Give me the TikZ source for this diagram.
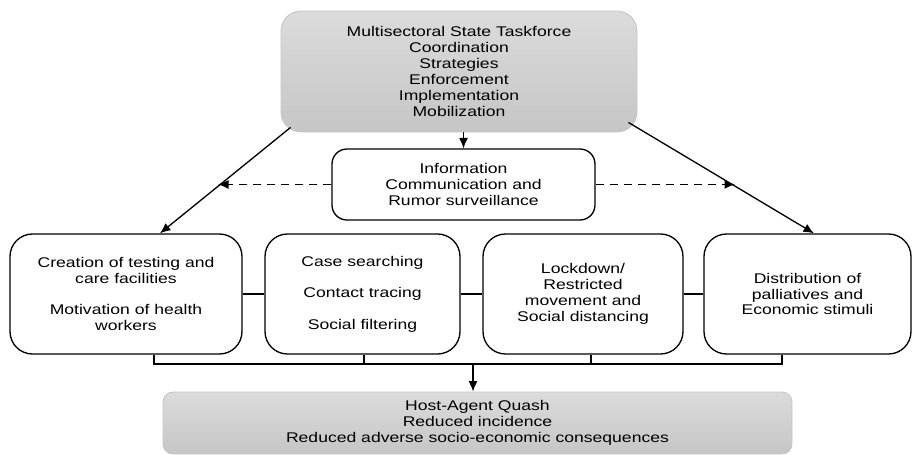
\documentclass[tikz,border=0pt]{standalone}
\usepackage{fontspec}
\setmainfont{Liberation Sans}[FakeStretch=1.25]
\usepackage{tikz}
\usetikzlibrary{arrows.meta}
\usetikzlibrary{positioning}

\begin{document}
\begin{tikzpicture}[
    box/.style={rectangle, rounded corners=0.45cm, draw, line width=0.75pt, align=center, font=\fontsize{8}{9}\selectfont},
    greybox/.style={rectangle, draw=gray!45, line width=0.5pt, top color=gray!28, bottom color=gray!45, align=center, font=\fontsize{8}{9}\selectfont},
    edge/.style={-{Latex[length=2.1mm,width=1.8mm]}, line width=0.75pt},
    dashedge/.style={edge, dash pattern=on 1.7mm off 1.1mm},
    link/.style={line width=0.75pt}
]

\useasboundingbox (0,0) rectangle (18.26,9.08);

% Taskforce (arriba)
\node[greybox, rounded corners=0.4cm, minimum width=7.12cm, minimum height=2.42cm] (task) at (9.18,7.65)
    {Multisectoral State Taskforce\\ Coordination\\ Strategies\\ Enforcement\\ Implementation\\ Mobilization};

% Informacion
\node[box, rounded corners=0.3cm, minimum width=5.26cm, minimum height=1.42cm] (info) at (9.27,5.39)
    {Information\\ Communication and\\ Rumor surveillance};

% Intervenciones
\node[box, minimum width=4.64cm, minimum height=2.4cm] (care) at (2.52,3.2)
    {Creation of testing and\\ care facilities\\[9pt] Motivation of health\\ workers};
\node[box, minimum width=3.9cm, minimum height=2.4cm] (search) at (7.25,3.2)
    {Case searching\\[9pt] Contact tracing\\[9pt] Social filtering};
\node[box, minimum width=4.0cm, minimum height=2.4cm] (lock) at (11.66,3.2)
    {Lockdown/\\ Restricted\\ movement and\\ Social distancing};
\node[box, minimum width=4.14cm, minimum height=2.4cm] (aid) at (16.15,3.2)
    {Distribution of\\ palliatives and\\ Economic stimuli};

% Resultado (abajo)
\node[greybox, rounded corners=0.2cm, minimum width=12.58cm, minimum height=1.24cm] (result) at (9.55,0.62)
    {Host-Agent Quash\\ Reduced incidence\\ Reduced adverse socio-economic consequences};

% Puntos auxiliares
\coordinate (infoL) at (4.36,5.36);
\coordinate (infoR) at (14.7,5.36);
\coordinate (b1) at (3.08,1.8);
\coordinate (b2) at (7.28,1.8);
\coordinate (b3) at (11.82,1.8);
\coordinate (b4) at (15.64,1.8);
\coordinate (bus) at (9.46,1.8);

% Del taskforce
\draw[edge] (task.south -| info.north) -- (info.north);
\draw[edge] ([xshift=0.2cm,yshift=0.1cm]task.south west) -- ([xshift=0.68cm]care.north);
\draw[edge] ([xshift=-0.18cm,yshift=0.2cm]task.south east) -- ([xshift=0.13cm]aid.north);

% Informacion hacia los lados
\draw[dashedge] (info.west) -- (info.west -| infoL);
\draw[dashedge] (info.east) -- (info.east -| infoR);

% Uniones entre cajas
\draw[link] (care.east) -- (search.west);
\draw[link] (search.east) -- (lock.west);
\draw[link] (lock.east) -- (aid.west);

% Hacia el resultado
\draw[link] (care.south -| b1) -- (b1) -- (b4) -- (aid.south -| b4);
\draw[link] (search.south -| b2) -- (b2);
\draw[link] (lock.south -| b3) -- (b3);
\draw[edge] (bus) -- (result.north -| bus);

\end{tikzpicture}
\end{document}
